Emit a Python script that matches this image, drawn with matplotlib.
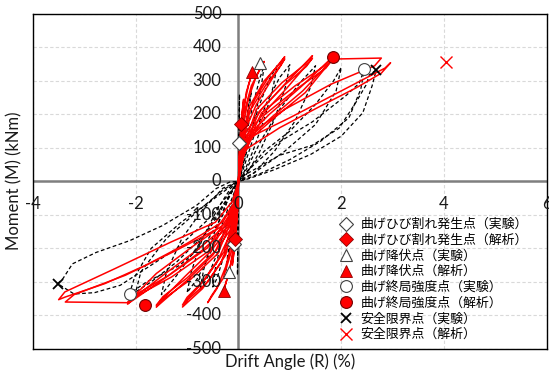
import matplotlib
matplotlib.use('Agg')
import matplotlib.pyplot as plt
import matplotlib.transforms as mtransforms

plt.rcParams['font.family'] = ['Lato', 'Noto Sans CJK JP', 'DejaVu Sans']

# experiment loops: drift angle (%) and moment (kNm), one list per cycle
exp_drift = [
    [0, 0.01, 0.02, 0.01, 0, -0.01, -0.02, -0.01, 0],
    [0, 0.03, 0.08, 0.125, 0.1, 0.04, 0, -0.04, -0.09, -0.125, -0.1, -0.04, 0],
    [0, 0.05, 0.12, 0.2, 0.25, 0.21, 0.12, 0.04, 0, -0.05, -0.12, -0.2, -0.25, -0.21, -0.12, -0.04, 0],
    [0, 0.06, 0.15, 0.3, 0.42, 0.5, 0.45, 0.33, 0.18, 0.06, 0, -0.06, -0.15, -0.3, -0.42, -0.5, -0.45, -0.33, -0.18, -0.06, 0],
    [0, 0.08, 0.2, 0.4, 0.6, 0.75, 0.68, 0.5, 0.28, 0.1, 0, -0.08, -0.2, -0.4, -0.6, -0.75, -0.68, -0.5, -0.28, -0.1, 0],
    [0, 0.1, 0.3, 0.55, 0.8, 1.0, 0.92, 0.7, 0.4, 0.15, 0, -0.1, -0.3, -0.55, -0.8, -1.0, -0.92, -0.7, -0.4, -0.15, 0],
    [0, 0.15, 0.45, 0.8, 1.2, 1.5, 1.4, 1.1, 0.7, 0.3, 0, -0.15, -0.45, -0.8, -1.2, -1.5, -1.4, -1.1, -0.7, -0.3, 0],
    [0, 0.5, 1.0, 1.5, 1.85, 2.0, 1.9, 1.5, 0.9, 0.3, 0, -0.2, -0.6, -1.2, -1.7, -2.0, -1.9, -1.4, -0.8, -0.3, 0],
    [0, 0.3, 0.8, 1.44, 2.1, 2.35, 2.45, 2.38, 2.15, 1.6, 1.0, 0.45, 0.1, 0, -0.17, -0.31, -0.63, -1.15, -1.8, -2.12,
     -2.02, -1.7, -1.1, -0.55, -0.15, 0],
    [0, 0.05, 0.8, 1.44, 1.96, 2.29, 2.48, 2.55, 2.68, 2.6, 2.42, 2.0, 1.4, 0.7, 0.2, 0, -0.2, -0.6, -1.2, -1.8, -2.3,
     -2.8, -3.2, -3.52, -3.42, -3.23, -2.77, -2.12, -1.48, -0.82, -0.43, -0.17, 0],
]
exp_moment = [
    [0, 130, 260, 140, 0, -130, -280, -150, 0],
    [0, 60, 140, 200, 160, 70, 0, -60, -140, -210, -170, -70, 0],
    [0, 60, 150, 230, 270, 220, 130, 40, 0, -60, -150, -230, -270, -220, -125, -40, 0],
    [0, 50, 140, 240, 310, 345, 290, 200, 100, 30, 0, -50, -135, -230, -290, -315, -260, -175, -90, -25, 0],
    [0, 45, 125, 225, 305, 345, 285, 185, 90, 25, 0, -45, -115, -210, -285, -325, -265, -165, -80, -20, 0],
    [0, 40, 135, 235, 310, 348, 285, 185, 85, 20, 0, -40, -120, -215, -290, -332, -270, -170, -80, -20, 0],
    [0, 35, 125, 215, 295, 345, 280, 180, 90, 25, 0, -35, -105, -195, -280, -338, -270, -170, -85, -20, 0],
    [0, 90, 150, 230, 300, 340, 270, 170, 90, 25, 0, -50, -150, -240, -300, -330, -270, -170, -90, -25, 0],
    [0, 50, 118, 178, 257, 293, 335, 275, 190, 120, 65, 25, 5, 0, -35, -102, -182, -251, -301, -335,
     -285, -200, -120, -60, -15, 0],
    [0, 13, 78, 108, 159, 237, 287, 318, 332, 285, 205, 135, 80, 35, 8, 0, -40, -115, -200, -260, -310,
     -332, -336, -305, -291, -246, -212, -177, -132, -72, -21, -2, 0],
]

# analysis loops
ana_drift = [
    [0, 0.02, 0.05, 0.1, 0.06, 0.02, 0, -0.02, -0.06, -0.12, -0.07, -0.02, 0],
    [0, 0.02, 0.06, 0.15, 0.27, 0.2, 0.1, 0.03, 0, -0.02, -0.07, -0.17, -0.29, -0.22, -0.11, -0.03, 0],
    [0, 0.03, 0.08, 0.2, 0.35, 0.5, 0.42, 0.25, 0.1, 0.03, 0, -0.03, -0.09, -0.25, -0.42, -0.6, -0.52, -0.3, -0.12, -0.03, 0],
    [0, 0.03, 0.1, 0.3, 0.6, 0.9, 0.8, 0.5, 0.2, 0.05, 0, -0.04, -0.12, -0.35, -0.7, -1.09, -0.98, -0.6, -0.25, -0.05, 0],
    [0, 0.04, 0.12, 0.35, 0.65, 0.9, 0.82, 0.55, 0.22, 0.06, 0, -0.05, -0.14, -0.4, -0.75, -1.09, -1.0, -0.65, -0.28, -0.06, 0],
    [0, 0.04, 0.14, 0.45, 0.9, 1.44, 1.3, 0.85, 0.35, 0.08, 0, -0.05, -0.16, -0.5, -1.0, -1.6, -1.45, -0.95, -0.4, -0.08, 0],
    [0, 0.05, 0.16, 0.5, 0.95, 1.44, 1.32, 0.9, 0.4, 0.09, 0, -0.06, -0.18, -0.55, -1.05, -1.6, -1.47, -1.0, -0.45, -0.09, 0],
    [0, 0.05, 0.18, 0.6, 1.2, 1.83, 1.68, 1.1, 0.45, 0.1, 0, -0.06, -0.2, -0.7, -1.4, -2.16, -1.98, -1.3, -0.55, -0.1, 0],
    [0, 0.06, 0.2, 0.65, 1.25, 1.83, 1.7, 1.15, 0.5, 0.11, 0, -0.07, -0.22, -0.75, -1.45, -2.16, -2.0, -1.35, -0.6, -0.11, 0],
    [0, 0.06, 0.22, 0.7, 1.3, 1.83, 2.78, 2.65, 1.8, 0.9, 0.3, 0.08, 0, -0.07, -0.25, -0.9, -1.6, -2.16, -3.37, -3.2,
     -2.2, -1.2, -0.45, -0.1, 0],
    [0, 0.05, 0.12, 0.8, 1.6, 2.3, 2.78, 2.96, 2.85, 2.0, 1.0, 0.4, 0.12, 0.03, 0, -0.07, -0.3, -1.0, -1.8, -2.6, -3.37,
     -3.5, -3.38, -2.4, -1.3, -0.45, -0.12, 0],
]
ana_moment = [
    [0, 90, 170, 245, 190, 90, 0, -90, -171, -250, -190, -90, 0],
    [0, 80, 165, 265, 326, 290, 220, 100, 0, -80, -165, -265, -326, -290, -220, -100, 0],
    [0, 80, 160, 250, 315, 358, 335, 285, 200, 90, 0, -80, -160, -255, -320, -362, -340, -290, -200, -90, 0],
    [0, 80, 160, 240, 315, 372, 350, 300, 220, 100, 0, -80, -160, -245, -320, -375, -352, -300, -220, -100, 0],
    [0, 75, 150, 230, 305, 366, 345, 292, 210, 95, 0, -75, -150, -235, -310, -369, -346, -292, -210, -95, 0],
    [0, 70, 145, 215, 290, 375, 350, 295, 215, 95, 0, -70, -145, -220, -295, -375, -350, -295, -215, -95, 0],
    [0, 65, 138, 205, 280, 368, 343, 288, 208, 90, 0, -65, -138, -210, -285, -370, -344, -288, -208, -90, 0],
    [0, 65, 135, 200, 280, 371, 345, 285, 205, 90, 0, -65, -135, -205, -285, -366, -342, -285, -205, -90, 0],
    [0, 60, 128, 192, 270, 364, 338, 278, 198, 85, 0, -60, -128, -198, -278, -362, -338, -280, -198, -85, 0],
    [0, 60, 125, 190, 265, 365, 368, 345, 290, 215, 150, 70, 0, -60, -125, -195, -275, -362, -360, -338,
     -280, -205, -145, -70, 0],
    [0, 45, 93, 160, 225, 280, 323, 354, 338, 270, 190, 145, 123, 50, 0, -60, -120, -185, -250, -305, -345,
     -353, -330, -260, -180, -122, -60, 0],
]

# characteristic points (drift, moment)
crack_exp_x, crack_exp_y = [0.01, -0.08], [114, -186]
crack_ana_x, crack_ana_y = [0.04, -0.06], [171, -171]
yield_exp_x, yield_exp_y = [0.41, -0.19], [353, -270]
yield_ana_x, yield_ana_y = [0.27, -0.29], [326, -326]
ult_exp_x, ult_exp_y = [2.45, -2.12], [335, -335]
ult_ana_x, ult_ana_y = [1.83, -1.81], [371, -368]
safe_exp_x, safe_exp_y = [2.68, -3.52], [332, -305]
safe_ana_x, safe_ana_y = [4.03], [356]

labels = ['曲げひび割れ発生点（実験）', '曲げひび割れ発生点（解析）',
          '曲げ降伏点（実験）', '曲げ降伏点（解析）',
          '曲げ終局強度点（実験）', '曲げ終局強度点（解析）',
          '安全限界点（実験）', '安全限界点（解析）']

x_ticks = [-4, -2, 0, 2, 4, 6]
y_ticks = [-500, -400, -300, -200, -100, 0, 100, 200, 300, 400, 500]

fig, ax = plt.subplots(figsize=(5.49, 3.74), dpi=100)
fig.subplots_adjust(left=0.060, right=0.996, top=0.963, bottom=0.067)

# hysteresis curves
for xs, ys in zip(exp_drift, exp_moment):
    ax.plot(xs, ys, color='black', lw=0.9, dashes=(3, 2), zorder=2)
for xs, ys in zip(ana_drift, ana_moment):
    ax.plot(xs, ys, color='red', lw=1.1, zorder=3)

# point markers
ax.plot(crack_exp_x, crack_exp_y, ls='none', marker='D', ms=7, mfc='white', mec='#404040', mew=0.8, label=labels[0], zorder=5)
ax.plot(crack_ana_x, crack_ana_y, ls='none', marker='D', ms=7, mfc='red', mec='#900000', mew=0.6, label=labels[1], zorder=5)
ax.plot(yield_exp_x, yield_exp_y, ls='none', marker='^', ms=8, mfc='white', mec='#404040', mew=0.8, label=labels[2], zorder=5)
ax.plot(yield_ana_x, yield_ana_y, ls='none', marker='^', ms=8, mfc='red', mec='#900000', mew=0.6, label=labels[3], zorder=5)
ax.plot(ult_exp_x, ult_exp_y, ls='none', marker='o', ms=8.5, mfc='white', mec='#404040', mew=0.8, label=labels[4], zorder=5)
ax.plot(ult_ana_x, ult_ana_y, ls='none', marker='o', ms=8.5, mfc='red', mec='#700000', mew=0.8, label=labels[5], zorder=5)
ax.plot(safe_exp_x, safe_exp_y, ls='none', marker='x', ms=7.5, color='black', mew=1.3, label=labels[6], zorder=5)
ax.plot(safe_ana_x, safe_ana_y, ls='none', marker='x', ms=8, color='red', mew=1.0, label=labels[7], zorder=5)

# zero axes and grid
ax.axhline(0, color='#7f7f7f', lw=1.8, zorder=1.5)
ax.axvline(0, color='#7f7f7f', lw=1.8, zorder=1.5)
ax.set_xlim(-4, 6)
ax.set_ylim(-500, 500)
ax.set_xticks(x_ticks)
ax.set_yticks(y_ticks)
ax.grid(color='#d9d9d9', ls=(0, (3, 2)), lw=0.8)
ax.set_axisbelow(True)
ax.tick_params(length=0, labelbottom=False, labelleft=False)
for s in ax.spines.values():
    s.set_color('black')
    s.set_linewidth(1.0)

# tick labels sit along the zero lines
xt = mtransforms.offset_copy(ax.transData, fig=fig, x=0, y=-23, units='dots')
for v in x_ticks:
    ax.text(v, 0, str(v), transform=xt, ha='center', va='center', fontsize=12, color='#1a1a1a', clip_on=False)
yt = mtransforms.offset_copy(ax.transData, fig=fig, x=-17, y=0, units='dots')
for v in y_ticks:
    ax.text(0, v, str(v), transform=yt, ha='right', va='center', fontsize=12, color='#1a1a1a', clip_on=False)

fig.text(290 / 549, 1 - 362 / 374, 'Drift Angle (R) (%)', ha='center', va='center', fontsize=12, color='#1a1a1a')
fig.text(14 / 549, 1 - 181 / 374, 'Moment (M) (kNm)', ha='center', va='center', rotation=90, fontsize=12, color='#1a1a1a')

ax.legend(loc='upper left', bbox_to_anchor=(0.597, 0.391), frameon=False, fontsize=9.3,
          handlelength=1.0, handletextpad=0.6, labelspacing=0.26, borderpad=0, borderaxespad=0)

plt.savefig('out.png', dpi=100)
